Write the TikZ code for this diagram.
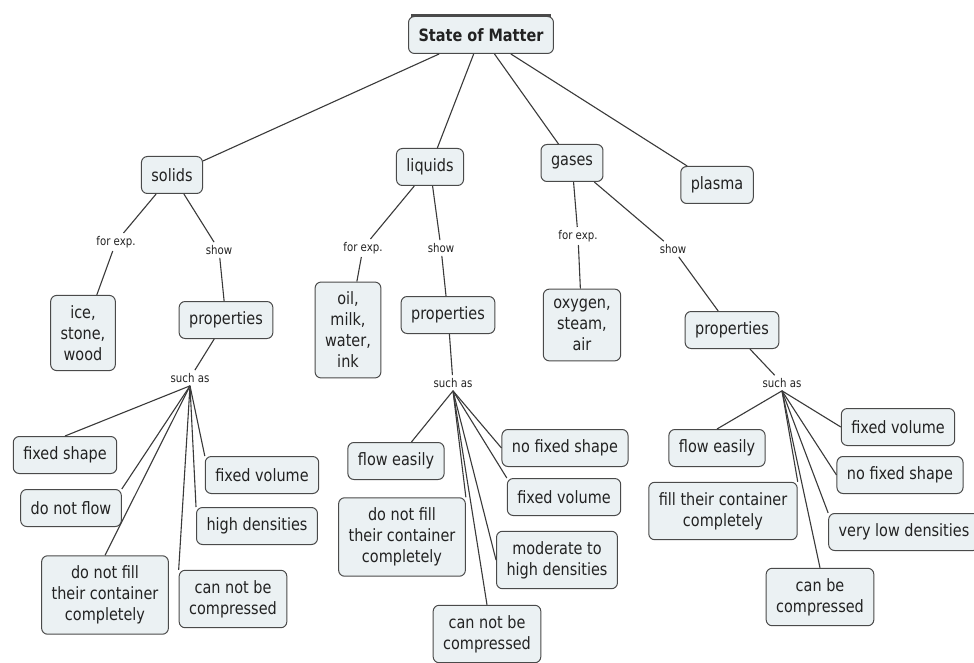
\documentclass[tikz,border=0pt]{standalone}
\usepackage{fontspec}
\setmainfont[FakeStretch=0.85]{DejaVu Sans}
\usepackage{tikz}
\definecolor{boxfill}{HTML}{EBF1F3}
\definecolor{boxline}{HTML}{4A4A4A}
\definecolor{linkcol}{HTML}{3A3A3A}
\definecolor{txtcol}{HTML}{222222}

\begin{document}
\begin{tikzpicture}[x=1pt,y=-1pt]
\tikzstyle{box}=[draw=boxline, fill=boxfill, line width=1pt, rounded corners=6pt, align=center, inner xsep=10pt, inner ysep=10pt, minimum height=37pt, text=txtcol, font=\fontsize{17}{21}\selectfont]
\tikzstyle{lbl}=[inner sep=3pt, text=txtcol, font=\fontsize{12}{14}\selectfont]
\tikzstyle{link}=[draw=linkcol, line width=1.1pt]
\useasboundingbox [fill=white] (0,0) rectangle (974,663);
% top concept
\node [box, font=\fontsize{17}{21}\selectfont\bfseries] (som) at (481,35) {State of Matter};
\draw [boxline, line width=3pt] ([xshift=3pt]som.north west) -- ([xshift=-3pt]som.north east);
% the four states
\node [box] (solids) at (172,175) {solids};
\node [box] (liquids) at (430,167) {liquids};
\node [box] (gases) at (572,163) {gases};
\node [box] (plasma) at (717,185) {plasma};
\draw [link] (som) -- (solids);
\draw [link] (som) -- (liquids);
\draw [link] (som) -- (gases);
\draw [link] (som) -- (plasma);
% solids
\node [lbl] (fe1) at (116,242) {for exp.};
\node [lbl] (sh1) at (219,250) {show};
\node [box] (ice) at (83,333) {ice,\\stone,\\wood};
\node [box] (prop1) at (226,320) {properties};
\node [lbl] (sa1) at (190,378) {such as};
\node [box] (fshape1) at (65,455) {fixed shape};
\node [box] (noflow1) at (71,508) {do not flow};
\node [box] (nofill1) at (105,595) {do not fill\\their container\\completely};
\node [box] (nocomp1) at (233,599) {can not be\\compressed};
\node [box] (fvol1) at (262,475) {fixed volume};
\node [box] (hdens1) at (257,526) {high densities};
\draw [link] (solids) -- (fe1) -- (ice);
\draw [link] (solids) -- (sh1) -- (prop1);
\draw [link] (prop1) -- (sa1);
\draw [link] (sa1.south) -- (fshape1.north);
\draw [link] (sa1.south) -- (noflow1.north east);
\draw [link] (sa1.south) -- (nofill1.north);
\draw [link] (sa1.south) -- (nocomp1.north west);
\draw [link] (sa1.south) -- (hdens1.north west);
\draw [link] (sa1.south) -- (fvol1.north west);
% liquids
\node [lbl] (fe2) at (363,248) {for exp.};
\node [lbl] (sh2) at (441,248) {show};
\node [box] (oil) at (348,330) {oil,\\milk,\\water,\\ink};
\node [box] (prop2) at (448,315) {properties};
\node [lbl] (sa2) at (453,383) {such as};
\node [box] (feasy2) at (396,461) {flow easily};
\node [box] (nofill2) at (402,537) {do not fill\\their container\\completely};
\node [box] (nfshape2) at (565,448) {no fixed shape};
\node [box] (fvol2) at (564,497) {fixed volume};
\node [box] (mod2) at (557,560) {moderate to\\high densities};
\node [box] (nocomp2) at (487,634) {can not be\\compressed};
\draw [link] (liquids) -- (fe2) -- (oil);
\draw [link] (liquids) -- (sh2) -- (prop2);
\draw [link] (prop2) -- (sa2);
\draw [link] (sa2.south) -- (feasy2);
\draw [link] (sa2.south) -- (nofill2.north east);
\draw [link] (sa2.south) -- (nocomp2.north);
\draw [link] (sa2.south) -- (mod2.west);
\draw [link] (sa2.south) -- (fvol2.north west);
\draw [link] (sa2.south) -- (nfshape2.west);
% gases
\node [lbl] (fe3) at (578,236) {for exp.};
\node [lbl] (sh3) at (673,249) {show};
\node [box] (oxy) at (582,325) {oxygen,\\steam,\\air};
\node [box] (prop3) at (732,330) {properties};
\node [lbl] (sa3) at (782,383) {such as};
\node [box] (feasy3) at (717,448) {flow easily};
\node [box] (fill3) at (723,511) {fill their container\\completely};
\node [box] (fvol3) at (898,427) {fixed volume};
\node [box] (nfshape3) at (900,475) {no fixed shape};
\node [box] (vlow3) at (904,532) {very low densities};
\node [box] (comp3) at (820,597) {can be\\compressed};
\draw [link] (gases) -- (fe3) -- (oxy);
\draw [link] (gases) -- (sh3) -- (prop3);
\draw [link] (prop3) -- (sa3);
\draw [link] (sa3.south) -- (feasy3.north);
\draw [link] (sa3.south) -- (fill3.north east);
\draw [link] (sa3.south) -- (comp3.north);
\draw [link] (sa3.south) -- (vlow3.north west);
\draw [link] (sa3.south) -- (nfshape3.west);
\draw [link] (sa3.south) -- (fvol3.west);
\end{tikzpicture}
\end{document}
